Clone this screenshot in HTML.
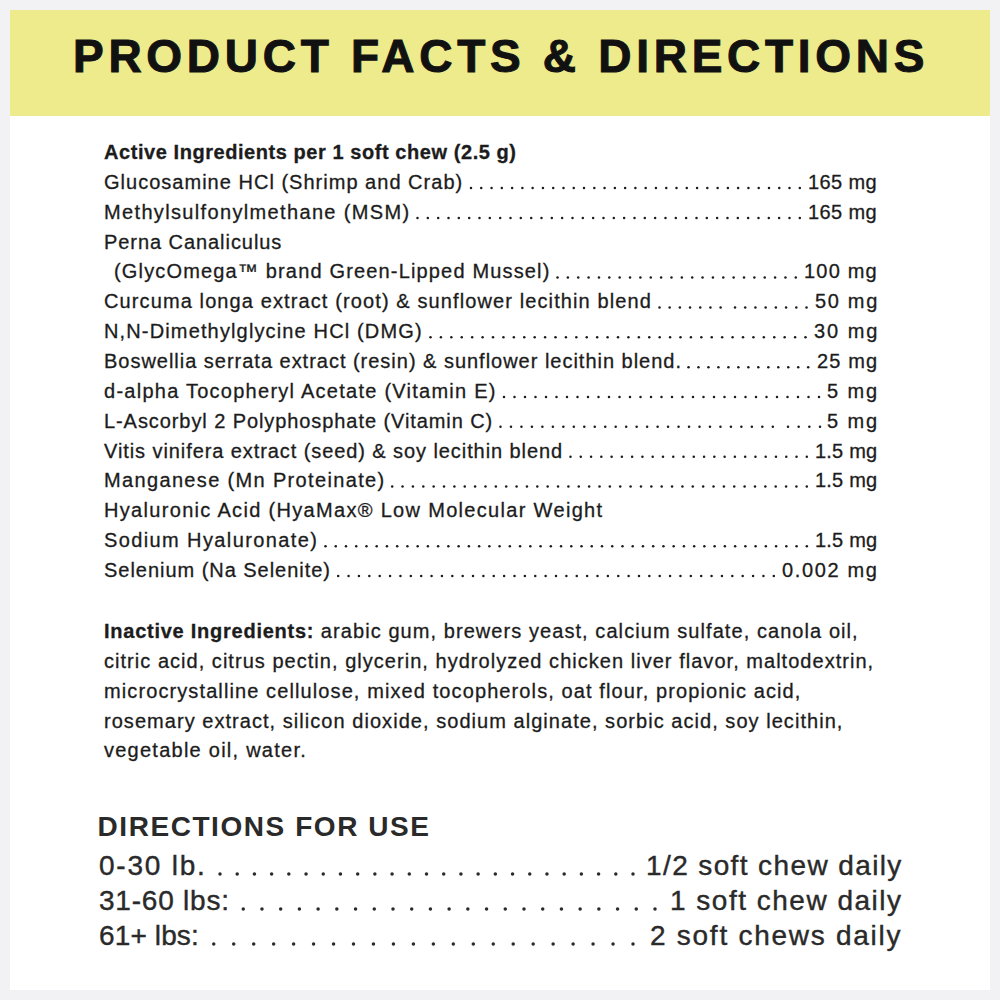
<!DOCTYPE html>
<html><head><meta charset="utf-8">
<style>
*{margin:0;padding:0;box-sizing:border-box}
html,body{width:1000px;height:1000px;overflow:hidden;background:#f2f2f4}
body{position:relative;font-family:"Liberation Sans",sans-serif;color:#1c1c1c}
#card{position:absolute;left:10px;top:10px;width:980px;height:980px;background:#fff}
#hdr{position:absolute;left:10px;top:10px;width:980px;height:106px;background:#edeb8c}
#title{position:absolute;left:73px;top:27.5px;font-weight:bold;font-size:46px;line-height:56px;letter-spacing:4.72px;color:#111;white-space:nowrap;-webkit-text-stroke:1px #111}
.ln{position:absolute;left:104px;height:30px;font-size:20px;line-height:30px;white-space:nowrap;-webkit-text-stroke:0.3px #1c1c1c}
.v{position:absolute;height:30px;font-size:20px;line-height:30px;white-space:nowrap;-webkit-text-stroke:0.3px #1c1c1c}
.dt{position:absolute;height:6px;background-image:radial-gradient(circle at 50% 50%,#1c1c1c 1.15px,rgba(28,28,28,0) 1.55px);background-size:10.4px 6px;background-repeat:repeat-x;background-position:left 0 top 0}
b,.b{font-weight:bold}
#pb{letter-spacing:0.75px}
.p{position:absolute;left:104px;font-size:20px;line-height:30px;white-space:nowrap;-webkit-text-stroke:0.3px #1c1c1c}
#dh{position:absolute;left:97.5px;font-size:28px;line-height:34px;font-weight:bold;letter-spacing:1.5647058823529285px;color:#2a2a2a;white-space:nowrap}
.dl{position:absolute;font-size:28px;line-height:36px;white-space:nowrap;color:#2a2a2a;-webkit-text-stroke:0.4px #2a2a2a}
.dd{position:absolute;height:8px;background-image:radial-gradient(circle at 50% 50%,#2a2a2a 1.55px,rgba(42,42,42,0) 2.0px);background-size:17px 8px;background-repeat:repeat-x;background-position:left 0 top 0}
</style></head><body>
<div id="card"></div>
<div id="hdr"></div>
<div id="title">PRODUCT FACTS &amp; DIRECTIONS</div>
<div class="ln b" id="r0" style="top:137.00px;left:104.0px;letter-spacing:0.561px">Active Ingredients per 1 soft chew (2.5 g)</div>
<div class="ln" id="r1" style="top:166.85px;left:104.0px;letter-spacing:1.016px">Glucosamine HCl (Shrimp and Crab)</div>
<div class="v" id="v1" style="top:166.85px;left:808.00px;letter-spacing:0.400px">165 mg</div>
<div class="ln" id="r2" style="top:196.70px;left:104.0px;letter-spacing:1.346px">Methylsulfonylmethane (MSM)</div>
<div class="v" id="v2" style="top:196.70px;left:808.00px;letter-spacing:0.400px">165 mg</div>
<div class="ln" id="r3" style="top:226.55px;left:104.0px;letter-spacing:0.938px">Perna Canaliculus</div>
<div class="ln" id="r4" style="top:256.40px;left:114.0px;letter-spacing:1.162px">(GlycOmega™ brand Green-Lipped Mussel)</div>
<div class="v" id="v4" style="top:256.40px;left:804.00px;letter-spacing:1.200px">100 mg</div>
<div class="ln" id="r5" style="top:286.25px;left:104.0px;letter-spacing:1.111px">Curcuma longa extract (root) &amp; sunflower lecithin blend</div>
<div class="v" id="v5" style="top:286.25px;left:815.00px;letter-spacing:1.675px">50 mg</div>
<div class="ln" id="r6" style="top:316.10px;left:104.0px;letter-spacing:1.143px">N,N-Dimethylglycine HCl (DMG)</div>
<div class="v" id="v6" style="top:316.10px;left:814.00px;letter-spacing:1.975px">30 mg</div>
<div class="ln" id="r7" style="top:345.95px;left:104.0px;letter-spacing:0.983px">Boswellia serrata extract (resin) &amp; sunflower lecithin blend.</div>
<div class="v" id="v7" style="top:345.95px;left:817.00px;letter-spacing:1.150px">25 mg</div>
<div class="ln" id="r8" style="top:375.80px;left:104.0px;letter-spacing:1.257px">d-alpha Tocopheryl Acetate (Vitamin E)</div>
<div class="v" id="v8" style="top:375.80px;left:827.00px;letter-spacing:1.867px">5 mg</div>
<div class="ln" id="r9" style="top:405.65px;left:104.0px;letter-spacing:0.919px">L-Ascorbyl 2 Polyphosphate (Vitamin C)</div>
<div class="v" id="v9" style="top:405.65px;left:827.00px;letter-spacing:1.867px">5 mg</div>
<div class="ln" id="r10" style="top:435.50px;left:104.0px;letter-spacing:0.918px">Vitis vinifera extract (seed) &amp; soy lecithin blend</div>
<div class="v" id="v10" style="top:435.50px;left:815.00px;letter-spacing:0.200px">1.5 mg</div>
<div class="ln" id="r11" style="top:465.35px;left:104.0px;letter-spacing:1.346px">Manganese (Mn Proteinate)</div>
<div class="v" id="v11" style="top:465.35px;left:815.00px;letter-spacing:0.200px">1.5 mg</div>
<div class="ln" id="r12" style="top:495.20px;left:104.0px;letter-spacing:1.318px">Hyaluronic Acid (HyaMax® Low Molecular Weight</div>
<div class="ln" id="r13" style="top:525.05px;left:104.0px;letter-spacing:1.389px">Sodium Hyaluronate)</div>
<div class="v" id="v13" style="top:525.05px;left:815.00px;letter-spacing:0.200px">1.5 mg</div>
<div class="ln" id="r14" style="top:554.90px;left:104.0px;letter-spacing:0.967px">Selenium (Na Selenite)</div>
<div class="v" id="v14" style="top:554.90px;left:782.00px;letter-spacing:1.657px">0.002 mg</div>
<div class="p" id="p0" style="top:616.00px;letter-spacing:1.068px"><b id="pb">Inactive Ingredients:</b> arabic gum, brewers yeast, calcium sulfate, canola oil,</div>
<div class="p" id="p1" style="top:645.85px;letter-spacing:1.031px">citric acid, citrus pectin, glycerin, hydrolyzed chicken liver flavor, maltodextrin,</div>
<div class="p" id="p2" style="top:675.70px;letter-spacing:1.103px">microcrystalline cellulose, mixed tocopherols, oat flour, propionic acid,</div>
<div class="p" id="p3" style="top:705.55px;letter-spacing:1.043px">rosemary extract, silicon dioxide, sodium alginate, sorbic acid, soy lecithin,</div>
<div class="p" id="p4" style="top:735.40px;letter-spacing:1.250px">vegetable oil, water.</div>
<div id="dh" style="top:810px">DIRECTIONS FOR USE</div>
<div class="dl" id="dl0" style="top:848.00px;left:99px;letter-spacing:1.786px">0-30 lb.</div>
<div class="dl" id="dr0" style="top:848.00px;left:646.00px;letter-spacing:1.389px;word-spacing:0.00px">1/2 soft chew daily</div>
<div class="dl" id="dl1" style="top:883.00px;left:99px;letter-spacing:0.778px">31-60 lbs:</div>
<div class="dl" id="dr1" style="top:883.00px;left:670.00px;letter-spacing:1.500px;word-spacing:0.00px">1 soft chew daily</div>
<div class="dl" id="dl2" style="top:918.00px;left:99px;letter-spacing:0.129px">61+ lbs:</div>
<div class="dl" id="dr2" style="top:918.00px;left:650.00px;letter-spacing:1.735px;word-spacing:0.00px">2 soft chews daily</div>
<svg class="dots" width="1000" height="1000" viewBox="0 0 1000 1000" style="position:absolute;left:0;top:0"><circle cx="471.00" cy="188.05" r="1.25" fill="#1c1c1c"/><circle cx="481.27" cy="188.05" r="1.25" fill="#1c1c1c"/><circle cx="491.55" cy="188.05" r="1.25" fill="#1c1c1c"/><circle cx="501.82" cy="188.05" r="1.25" fill="#1c1c1c"/><circle cx="512.10" cy="188.05" r="1.25" fill="#1c1c1c"/><circle cx="522.38" cy="188.05" r="1.25" fill="#1c1c1c"/><circle cx="532.65" cy="188.05" r="1.25" fill="#1c1c1c"/><circle cx="542.92" cy="188.05" r="1.25" fill="#1c1c1c"/><circle cx="553.20" cy="188.05" r="1.25" fill="#1c1c1c"/><circle cx="563.48" cy="188.05" r="1.25" fill="#1c1c1c"/><circle cx="573.75" cy="188.05" r="1.25" fill="#1c1c1c"/><circle cx="584.02" cy="188.05" r="1.25" fill="#1c1c1c"/><circle cx="594.30" cy="188.05" r="1.25" fill="#1c1c1c"/><circle cx="604.58" cy="188.05" r="1.25" fill="#1c1c1c"/><circle cx="614.85" cy="188.05" r="1.25" fill="#1c1c1c"/><circle cx="625.12" cy="188.05" r="1.25" fill="#1c1c1c"/><circle cx="635.40" cy="188.05" r="1.25" fill="#1c1c1c"/><circle cx="645.67" cy="188.05" r="1.25" fill="#1c1c1c"/><circle cx="655.95" cy="188.05" r="1.25" fill="#1c1c1c"/><circle cx="666.22" cy="188.05" r="1.25" fill="#1c1c1c"/><circle cx="676.50" cy="188.05" r="1.25" fill="#1c1c1c"/><circle cx="686.77" cy="188.05" r="1.25" fill="#1c1c1c"/><circle cx="697.05" cy="188.05" r="1.25" fill="#1c1c1c"/><circle cx="707.32" cy="188.05" r="1.25" fill="#1c1c1c"/><circle cx="717.60" cy="188.05" r="1.25" fill="#1c1c1c"/><circle cx="727.88" cy="188.05" r="1.25" fill="#1c1c1c"/><circle cx="738.15" cy="188.05" r="1.25" fill="#1c1c1c"/><circle cx="748.42" cy="188.05" r="1.25" fill="#1c1c1c"/><circle cx="758.70" cy="188.05" r="1.25" fill="#1c1c1c"/><circle cx="768.97" cy="188.05" r="1.25" fill="#1c1c1c"/><circle cx="779.25" cy="188.05" r="1.25" fill="#1c1c1c"/><circle cx="789.52" cy="188.05" r="1.25" fill="#1c1c1c"/><circle cx="799.80" cy="188.05" r="1.25" fill="#1c1c1c"/><circle cx="417.50" cy="217.90" r="1.25" fill="#1c1c1c"/><circle cx="427.83" cy="217.90" r="1.25" fill="#1c1c1c"/><circle cx="438.16" cy="217.90" r="1.25" fill="#1c1c1c"/><circle cx="448.50" cy="217.90" r="1.25" fill="#1c1c1c"/><circle cx="458.83" cy="217.90" r="1.25" fill="#1c1c1c"/><circle cx="469.16" cy="217.90" r="1.25" fill="#1c1c1c"/><circle cx="479.49" cy="217.90" r="1.25" fill="#1c1c1c"/><circle cx="489.83" cy="217.90" r="1.25" fill="#1c1c1c"/><circle cx="500.16" cy="217.90" r="1.25" fill="#1c1c1c"/><circle cx="510.49" cy="217.90" r="1.25" fill="#1c1c1c"/><circle cx="520.82" cy="217.90" r="1.25" fill="#1c1c1c"/><circle cx="531.16" cy="217.90" r="1.25" fill="#1c1c1c"/><circle cx="541.49" cy="217.90" r="1.25" fill="#1c1c1c"/><circle cx="551.82" cy="217.90" r="1.25" fill="#1c1c1c"/><circle cx="562.15" cy="217.90" r="1.25" fill="#1c1c1c"/><circle cx="572.49" cy="217.90" r="1.25" fill="#1c1c1c"/><circle cx="582.82" cy="217.90" r="1.25" fill="#1c1c1c"/><circle cx="593.15" cy="217.90" r="1.25" fill="#1c1c1c"/><circle cx="603.48" cy="217.90" r="1.25" fill="#1c1c1c"/><circle cx="613.82" cy="217.90" r="1.25" fill="#1c1c1c"/><circle cx="624.15" cy="217.90" r="1.25" fill="#1c1c1c"/><circle cx="634.48" cy="217.90" r="1.25" fill="#1c1c1c"/><circle cx="644.81" cy="217.90" r="1.25" fill="#1c1c1c"/><circle cx="655.15" cy="217.90" r="1.25" fill="#1c1c1c"/><circle cx="665.48" cy="217.90" r="1.25" fill="#1c1c1c"/><circle cx="675.81" cy="217.90" r="1.25" fill="#1c1c1c"/><circle cx="686.14" cy="217.90" r="1.25" fill="#1c1c1c"/><circle cx="696.48" cy="217.90" r="1.25" fill="#1c1c1c"/><circle cx="706.81" cy="217.90" r="1.25" fill="#1c1c1c"/><circle cx="717.14" cy="217.90" r="1.25" fill="#1c1c1c"/><circle cx="727.47" cy="217.90" r="1.25" fill="#1c1c1c"/><circle cx="737.81" cy="217.90" r="1.25" fill="#1c1c1c"/><circle cx="748.14" cy="217.90" r="1.25" fill="#1c1c1c"/><circle cx="758.47" cy="217.90" r="1.25" fill="#1c1c1c"/><circle cx="768.80" cy="217.90" r="1.25" fill="#1c1c1c"/><circle cx="779.14" cy="217.90" r="1.25" fill="#1c1c1c"/><circle cx="789.47" cy="217.90" r="1.25" fill="#1c1c1c"/><circle cx="799.80" cy="217.90" r="1.25" fill="#1c1c1c"/><circle cx="557.50" cy="277.60" r="1.25" fill="#1c1c1c"/><circle cx="567.86" cy="277.60" r="1.25" fill="#1c1c1c"/><circle cx="578.22" cy="277.60" r="1.25" fill="#1c1c1c"/><circle cx="588.58" cy="277.60" r="1.25" fill="#1c1c1c"/><circle cx="598.94" cy="277.60" r="1.25" fill="#1c1c1c"/><circle cx="609.30" cy="277.60" r="1.25" fill="#1c1c1c"/><circle cx="619.67" cy="277.60" r="1.25" fill="#1c1c1c"/><circle cx="630.03" cy="277.60" r="1.25" fill="#1c1c1c"/><circle cx="640.39" cy="277.60" r="1.25" fill="#1c1c1c"/><circle cx="650.75" cy="277.60" r="1.25" fill="#1c1c1c"/><circle cx="661.11" cy="277.60" r="1.25" fill="#1c1c1c"/><circle cx="671.47" cy="277.60" r="1.25" fill="#1c1c1c"/><circle cx="681.83" cy="277.60" r="1.25" fill="#1c1c1c"/><circle cx="692.19" cy="277.60" r="1.25" fill="#1c1c1c"/><circle cx="702.55" cy="277.60" r="1.25" fill="#1c1c1c"/><circle cx="712.91" cy="277.60" r="1.25" fill="#1c1c1c"/><circle cx="723.27" cy="277.60" r="1.25" fill="#1c1c1c"/><circle cx="733.63" cy="277.60" r="1.25" fill="#1c1c1c"/><circle cx="744.00" cy="277.60" r="1.25" fill="#1c1c1c"/><circle cx="754.36" cy="277.60" r="1.25" fill="#1c1c1c"/><circle cx="764.72" cy="277.60" r="1.25" fill="#1c1c1c"/><circle cx="775.08" cy="277.60" r="1.25" fill="#1c1c1c"/><circle cx="785.44" cy="277.60" r="1.25" fill="#1c1c1c"/><circle cx="795.80" cy="277.60" r="1.25" fill="#1c1c1c"/><circle cx="735.00" cy="307.45" r="1.25" fill="#1c1c1c"/><circle cx="745.21" cy="307.45" r="1.25" fill="#1c1c1c"/><circle cx="755.43" cy="307.45" r="1.25" fill="#1c1c1c"/><circle cx="765.64" cy="307.45" r="1.25" fill="#1c1c1c"/><circle cx="775.86" cy="307.45" r="1.25" fill="#1c1c1c"/><circle cx="786.07" cy="307.45" r="1.25" fill="#1c1c1c"/><circle cx="796.29" cy="307.45" r="1.25" fill="#1c1c1c"/><circle cx="806.50" cy="307.45" r="1.25" fill="#1c1c1c"/><circle cx="659.50" cy="307.45" r="1.25" fill="#1c1c1c"/><circle cx="669.68" cy="307.45" r="1.25" fill="#1c1c1c"/><circle cx="679.87" cy="307.45" r="1.25" fill="#1c1c1c"/><circle cx="690.05" cy="307.45" r="1.25" fill="#1c1c1c"/><circle cx="700.23" cy="307.45" r="1.25" fill="#1c1c1c"/><circle cx="710.42" cy="307.45" r="1.25" fill="#1c1c1c"/><circle cx="720.60" cy="307.45" r="1.25" fill="#1c1c1c"/><circle cx="430.50" cy="337.30" r="1.25" fill="#1c1c1c"/><circle cx="440.92" cy="337.30" r="1.25" fill="#1c1c1c"/><circle cx="451.33" cy="337.30" r="1.25" fill="#1c1c1c"/><circle cx="461.75" cy="337.30" r="1.25" fill="#1c1c1c"/><circle cx="472.17" cy="337.30" r="1.25" fill="#1c1c1c"/><circle cx="482.58" cy="337.30" r="1.25" fill="#1c1c1c"/><circle cx="493.00" cy="337.30" r="1.25" fill="#1c1c1c"/><circle cx="503.42" cy="337.30" r="1.25" fill="#1c1c1c"/><circle cx="513.83" cy="337.30" r="1.25" fill="#1c1c1c"/><circle cx="524.25" cy="337.30" r="1.25" fill="#1c1c1c"/><circle cx="534.67" cy="337.30" r="1.25" fill="#1c1c1c"/><circle cx="545.08" cy="337.30" r="1.25" fill="#1c1c1c"/><circle cx="555.50" cy="337.30" r="1.25" fill="#1c1c1c"/><circle cx="565.92" cy="337.30" r="1.25" fill="#1c1c1c"/><circle cx="576.33" cy="337.30" r="1.25" fill="#1c1c1c"/><circle cx="586.75" cy="337.30" r="1.25" fill="#1c1c1c"/><circle cx="597.17" cy="337.30" r="1.25" fill="#1c1c1c"/><circle cx="607.58" cy="337.30" r="1.25" fill="#1c1c1c"/><circle cx="618.00" cy="337.30" r="1.25" fill="#1c1c1c"/><circle cx="628.42" cy="337.30" r="1.25" fill="#1c1c1c"/><circle cx="638.83" cy="337.30" r="1.25" fill="#1c1c1c"/><circle cx="649.25" cy="337.30" r="1.25" fill="#1c1c1c"/><circle cx="659.67" cy="337.30" r="1.25" fill="#1c1c1c"/><circle cx="670.08" cy="337.30" r="1.25" fill="#1c1c1c"/><circle cx="680.50" cy="337.30" r="1.25" fill="#1c1c1c"/><circle cx="690.92" cy="337.30" r="1.25" fill="#1c1c1c"/><circle cx="701.33" cy="337.30" r="1.25" fill="#1c1c1c"/><circle cx="711.75" cy="337.30" r="1.25" fill="#1c1c1c"/><circle cx="722.17" cy="337.30" r="1.25" fill="#1c1c1c"/><circle cx="732.58" cy="337.30" r="1.25" fill="#1c1c1c"/><circle cx="743.00" cy="337.30" r="1.25" fill="#1c1c1c"/><circle cx="753.42" cy="337.30" r="1.25" fill="#1c1c1c"/><circle cx="763.83" cy="337.30" r="1.25" fill="#1c1c1c"/><circle cx="774.25" cy="337.30" r="1.25" fill="#1c1c1c"/><circle cx="784.67" cy="337.30" r="1.25" fill="#1c1c1c"/><circle cx="795.08" cy="337.30" r="1.25" fill="#1c1c1c"/><circle cx="805.50" cy="337.30" r="1.25" fill="#1c1c1c"/><circle cx="688.50" cy="367.15" r="1.25" fill="#1c1c1c"/><circle cx="698.48" cy="367.15" r="1.25" fill="#1c1c1c"/><circle cx="708.45" cy="367.15" r="1.25" fill="#1c1c1c"/><circle cx="718.42" cy="367.15" r="1.25" fill="#1c1c1c"/><circle cx="728.40" cy="367.15" r="1.25" fill="#1c1c1c"/><circle cx="738.38" cy="367.15" r="1.25" fill="#1c1c1c"/><circle cx="748.35" cy="367.15" r="1.25" fill="#1c1c1c"/><circle cx="758.32" cy="367.15" r="1.25" fill="#1c1c1c"/><circle cx="768.30" cy="367.15" r="1.25" fill="#1c1c1c"/><circle cx="778.27" cy="367.15" r="1.25" fill="#1c1c1c"/><circle cx="788.25" cy="367.15" r="1.25" fill="#1c1c1c"/><circle cx="798.22" cy="367.15" r="1.25" fill="#1c1c1c"/><circle cx="808.20" cy="367.15" r="1.25" fill="#1c1c1c"/><circle cx="504.00" cy="397.00" r="1.25" fill="#1c1c1c"/><circle cx="514.50" cy="397.00" r="1.25" fill="#1c1c1c"/><circle cx="525.00" cy="397.00" r="1.25" fill="#1c1c1c"/><circle cx="535.50" cy="397.00" r="1.25" fill="#1c1c1c"/><circle cx="546.00" cy="397.00" r="1.25" fill="#1c1c1c"/><circle cx="556.50" cy="397.00" r="1.25" fill="#1c1c1c"/><circle cx="567.00" cy="397.00" r="1.25" fill="#1c1c1c"/><circle cx="577.50" cy="397.00" r="1.25" fill="#1c1c1c"/><circle cx="588.00" cy="397.00" r="1.25" fill="#1c1c1c"/><circle cx="598.50" cy="397.00" r="1.25" fill="#1c1c1c"/><circle cx="609.00" cy="397.00" r="1.25" fill="#1c1c1c"/><circle cx="619.50" cy="397.00" r="1.25" fill="#1c1c1c"/><circle cx="630.00" cy="397.00" r="1.25" fill="#1c1c1c"/><circle cx="640.50" cy="397.00" r="1.25" fill="#1c1c1c"/><circle cx="651.00" cy="397.00" r="1.25" fill="#1c1c1c"/><circle cx="661.50" cy="397.00" r="1.25" fill="#1c1c1c"/><circle cx="672.00" cy="397.00" r="1.25" fill="#1c1c1c"/><circle cx="682.50" cy="397.00" r="1.25" fill="#1c1c1c"/><circle cx="693.00" cy="397.00" r="1.25" fill="#1c1c1c"/><circle cx="703.50" cy="397.00" r="1.25" fill="#1c1c1c"/><circle cx="714.00" cy="397.00" r="1.25" fill="#1c1c1c"/><circle cx="724.50" cy="397.00" r="1.25" fill="#1c1c1c"/><circle cx="735.00" cy="397.00" r="1.25" fill="#1c1c1c"/><circle cx="745.50" cy="397.00" r="1.25" fill="#1c1c1c"/><circle cx="756.00" cy="397.00" r="1.25" fill="#1c1c1c"/><circle cx="766.50" cy="397.00" r="1.25" fill="#1c1c1c"/><circle cx="777.00" cy="397.00" r="1.25" fill="#1c1c1c"/><circle cx="787.50" cy="397.00" r="1.25" fill="#1c1c1c"/><circle cx="798.00" cy="397.00" r="1.25" fill="#1c1c1c"/><circle cx="808.50" cy="397.00" r="1.25" fill="#1c1c1c"/><circle cx="819.00" cy="397.00" r="1.25" fill="#1c1c1c"/><circle cx="788.00" cy="426.85" r="1.25" fill="#1c1c1c"/><circle cx="798.67" cy="426.85" r="1.25" fill="#1c1c1c"/><circle cx="809.33" cy="426.85" r="1.25" fill="#1c1c1c"/><circle cx="820.00" cy="426.85" r="1.25" fill="#1c1c1c"/><circle cx="500.50" cy="426.85" r="1.25" fill="#1c1c1c"/><circle cx="510.97" cy="426.85" r="1.25" fill="#1c1c1c"/><circle cx="521.45" cy="426.85" r="1.25" fill="#1c1c1c"/><circle cx="531.92" cy="426.85" r="1.25" fill="#1c1c1c"/><circle cx="542.39" cy="426.85" r="1.25" fill="#1c1c1c"/><circle cx="552.87" cy="426.85" r="1.25" fill="#1c1c1c"/><circle cx="563.34" cy="426.85" r="1.25" fill="#1c1c1c"/><circle cx="573.81" cy="426.85" r="1.25" fill="#1c1c1c"/><circle cx="584.28" cy="426.85" r="1.25" fill="#1c1c1c"/><circle cx="594.76" cy="426.85" r="1.25" fill="#1c1c1c"/><circle cx="605.23" cy="426.85" r="1.25" fill="#1c1c1c"/><circle cx="615.70" cy="426.85" r="1.25" fill="#1c1c1c"/><circle cx="626.18" cy="426.85" r="1.25" fill="#1c1c1c"/><circle cx="636.65" cy="426.85" r="1.25" fill="#1c1c1c"/><circle cx="647.12" cy="426.85" r="1.25" fill="#1c1c1c"/><circle cx="657.60" cy="426.85" r="1.25" fill="#1c1c1c"/><circle cx="668.07" cy="426.85" r="1.25" fill="#1c1c1c"/><circle cx="678.54" cy="426.85" r="1.25" fill="#1c1c1c"/><circle cx="689.02" cy="426.85" r="1.25" fill="#1c1c1c"/><circle cx="699.49" cy="426.85" r="1.25" fill="#1c1c1c"/><circle cx="709.96" cy="426.85" r="1.25" fill="#1c1c1c"/><circle cx="720.43" cy="426.85" r="1.25" fill="#1c1c1c"/><circle cx="730.91" cy="426.85" r="1.25" fill="#1c1c1c"/><circle cx="741.38" cy="426.85" r="1.25" fill="#1c1c1c"/><circle cx="751.85" cy="426.85" r="1.25" fill="#1c1c1c"/><circle cx="762.33" cy="426.85" r="1.25" fill="#1c1c1c"/><circle cx="772.80" cy="426.85" r="1.25" fill="#1c1c1c"/><circle cx="570.50" cy="456.70" r="1.25" fill="#1c1c1c"/><circle cx="580.77" cy="456.70" r="1.25" fill="#1c1c1c"/><circle cx="591.05" cy="456.70" r="1.25" fill="#1c1c1c"/><circle cx="601.32" cy="456.70" r="1.25" fill="#1c1c1c"/><circle cx="611.60" cy="456.70" r="1.25" fill="#1c1c1c"/><circle cx="621.87" cy="456.70" r="1.25" fill="#1c1c1c"/><circle cx="632.14" cy="456.70" r="1.25" fill="#1c1c1c"/><circle cx="642.42" cy="456.70" r="1.25" fill="#1c1c1c"/><circle cx="652.69" cy="456.70" r="1.25" fill="#1c1c1c"/><circle cx="662.97" cy="456.70" r="1.25" fill="#1c1c1c"/><circle cx="673.24" cy="456.70" r="1.25" fill="#1c1c1c"/><circle cx="683.51" cy="456.70" r="1.25" fill="#1c1c1c"/><circle cx="693.79" cy="456.70" r="1.25" fill="#1c1c1c"/><circle cx="704.06" cy="456.70" r="1.25" fill="#1c1c1c"/><circle cx="714.33" cy="456.70" r="1.25" fill="#1c1c1c"/><circle cx="724.61" cy="456.70" r="1.25" fill="#1c1c1c"/><circle cx="734.88" cy="456.70" r="1.25" fill="#1c1c1c"/><circle cx="745.16" cy="456.70" r="1.25" fill="#1c1c1c"/><circle cx="755.43" cy="456.70" r="1.25" fill="#1c1c1c"/><circle cx="765.70" cy="456.70" r="1.25" fill="#1c1c1c"/><circle cx="775.98" cy="456.70" r="1.25" fill="#1c1c1c"/><circle cx="786.25" cy="456.70" r="1.25" fill="#1c1c1c"/><circle cx="796.53" cy="456.70" r="1.25" fill="#1c1c1c"/><circle cx="806.80" cy="456.70" r="1.25" fill="#1c1c1c"/><circle cx="392.20" cy="486.55" r="1.25" fill="#1c1c1c"/><circle cx="402.56" cy="486.55" r="1.25" fill="#1c1c1c"/><circle cx="412.93" cy="486.55" r="1.25" fill="#1c1c1c"/><circle cx="423.29" cy="486.55" r="1.25" fill="#1c1c1c"/><circle cx="433.66" cy="486.55" r="1.25" fill="#1c1c1c"/><circle cx="444.02" cy="486.55" r="1.25" fill="#1c1c1c"/><circle cx="454.39" cy="486.55" r="1.25" fill="#1c1c1c"/><circle cx="464.75" cy="486.55" r="1.25" fill="#1c1c1c"/><circle cx="475.12" cy="486.55" r="1.25" fill="#1c1c1c"/><circle cx="485.48" cy="486.55" r="1.25" fill="#1c1c1c"/><circle cx="495.85" cy="486.55" r="1.25" fill="#1c1c1c"/><circle cx="506.21" cy="486.55" r="1.25" fill="#1c1c1c"/><circle cx="516.58" cy="486.55" r="1.25" fill="#1c1c1c"/><circle cx="526.94" cy="486.55" r="1.25" fill="#1c1c1c"/><circle cx="537.31" cy="486.55" r="1.25" fill="#1c1c1c"/><circle cx="547.67" cy="486.55" r="1.25" fill="#1c1c1c"/><circle cx="558.04" cy="486.55" r="1.25" fill="#1c1c1c"/><circle cx="568.40" cy="486.55" r="1.25" fill="#1c1c1c"/><circle cx="578.77" cy="486.55" r="1.25" fill="#1c1c1c"/><circle cx="589.13" cy="486.55" r="1.25" fill="#1c1c1c"/><circle cx="599.50" cy="486.55" r="1.25" fill="#1c1c1c"/><circle cx="609.87" cy="486.55" r="1.25" fill="#1c1c1c"/><circle cx="620.23" cy="486.55" r="1.25" fill="#1c1c1c"/><circle cx="630.59" cy="486.55" r="1.25" fill="#1c1c1c"/><circle cx="640.96" cy="486.55" r="1.25" fill="#1c1c1c"/><circle cx="651.32" cy="486.55" r="1.25" fill="#1c1c1c"/><circle cx="661.69" cy="486.55" r="1.25" fill="#1c1c1c"/><circle cx="672.05" cy="486.55" r="1.25" fill="#1c1c1c"/><circle cx="682.42" cy="486.55" r="1.25" fill="#1c1c1c"/><circle cx="692.78" cy="486.55" r="1.25" fill="#1c1c1c"/><circle cx="703.15" cy="486.55" r="1.25" fill="#1c1c1c"/><circle cx="713.51" cy="486.55" r="1.25" fill="#1c1c1c"/><circle cx="723.88" cy="486.55" r="1.25" fill="#1c1c1c"/><circle cx="734.24" cy="486.55" r="1.25" fill="#1c1c1c"/><circle cx="744.61" cy="486.55" r="1.25" fill="#1c1c1c"/><circle cx="754.97" cy="486.55" r="1.25" fill="#1c1c1c"/><circle cx="765.34" cy="486.55" r="1.25" fill="#1c1c1c"/><circle cx="775.70" cy="486.55" r="1.25" fill="#1c1c1c"/><circle cx="786.07" cy="486.55" r="1.25" fill="#1c1c1c"/><circle cx="796.43" cy="486.55" r="1.25" fill="#1c1c1c"/><circle cx="806.80" cy="486.55" r="1.25" fill="#1c1c1c"/><circle cx="325.50" cy="546.25" r="1.25" fill="#1c1c1c"/><circle cx="335.74" cy="546.25" r="1.25" fill="#1c1c1c"/><circle cx="345.98" cy="546.25" r="1.25" fill="#1c1c1c"/><circle cx="356.22" cy="546.25" r="1.25" fill="#1c1c1c"/><circle cx="366.46" cy="546.25" r="1.25" fill="#1c1c1c"/><circle cx="376.70" cy="546.25" r="1.25" fill="#1c1c1c"/><circle cx="386.94" cy="546.25" r="1.25" fill="#1c1c1c"/><circle cx="397.18" cy="546.25" r="1.25" fill="#1c1c1c"/><circle cx="407.42" cy="546.25" r="1.25" fill="#1c1c1c"/><circle cx="417.66" cy="546.25" r="1.25" fill="#1c1c1c"/><circle cx="427.90" cy="546.25" r="1.25" fill="#1c1c1c"/><circle cx="438.14" cy="546.25" r="1.25" fill="#1c1c1c"/><circle cx="448.39" cy="546.25" r="1.25" fill="#1c1c1c"/><circle cx="458.63" cy="546.25" r="1.25" fill="#1c1c1c"/><circle cx="468.87" cy="546.25" r="1.25" fill="#1c1c1c"/><circle cx="479.11" cy="546.25" r="1.25" fill="#1c1c1c"/><circle cx="489.35" cy="546.25" r="1.25" fill="#1c1c1c"/><circle cx="499.59" cy="546.25" r="1.25" fill="#1c1c1c"/><circle cx="509.83" cy="546.25" r="1.25" fill="#1c1c1c"/><circle cx="520.07" cy="546.25" r="1.25" fill="#1c1c1c"/><circle cx="530.31" cy="546.25" r="1.25" fill="#1c1c1c"/><circle cx="540.55" cy="546.25" r="1.25" fill="#1c1c1c"/><circle cx="550.79" cy="546.25" r="1.25" fill="#1c1c1c"/><circle cx="561.03" cy="546.25" r="1.25" fill="#1c1c1c"/><circle cx="571.27" cy="546.25" r="1.25" fill="#1c1c1c"/><circle cx="581.51" cy="546.25" r="1.25" fill="#1c1c1c"/><circle cx="591.75" cy="546.25" r="1.25" fill="#1c1c1c"/><circle cx="601.99" cy="546.25" r="1.25" fill="#1c1c1c"/><circle cx="612.23" cy="546.25" r="1.25" fill="#1c1c1c"/><circle cx="622.47" cy="546.25" r="1.25" fill="#1c1c1c"/><circle cx="632.71" cy="546.25" r="1.25" fill="#1c1c1c"/><circle cx="642.95" cy="546.25" r="1.25" fill="#1c1c1c"/><circle cx="653.19" cy="546.25" r="1.25" fill="#1c1c1c"/><circle cx="663.43" cy="546.25" r="1.25" fill="#1c1c1c"/><circle cx="673.67" cy="546.25" r="1.25" fill="#1c1c1c"/><circle cx="683.91" cy="546.25" r="1.25" fill="#1c1c1c"/><circle cx="694.16" cy="546.25" r="1.25" fill="#1c1c1c"/><circle cx="704.40" cy="546.25" r="1.25" fill="#1c1c1c"/><circle cx="714.64" cy="546.25" r="1.25" fill="#1c1c1c"/><circle cx="724.88" cy="546.25" r="1.25" fill="#1c1c1c"/><circle cx="735.12" cy="546.25" r="1.25" fill="#1c1c1c"/><circle cx="745.36" cy="546.25" r="1.25" fill="#1c1c1c"/><circle cx="755.60" cy="546.25" r="1.25" fill="#1c1c1c"/><circle cx="765.84" cy="546.25" r="1.25" fill="#1c1c1c"/><circle cx="776.08" cy="546.25" r="1.25" fill="#1c1c1c"/><circle cx="786.32" cy="546.25" r="1.25" fill="#1c1c1c"/><circle cx="796.56" cy="546.25" r="1.25" fill="#1c1c1c"/><circle cx="806.80" cy="546.25" r="1.25" fill="#1c1c1c"/><circle cx="338.20" cy="576.10" r="1.25" fill="#1c1c1c"/><circle cx="348.57" cy="576.10" r="1.25" fill="#1c1c1c"/><circle cx="358.94" cy="576.10" r="1.25" fill="#1c1c1c"/><circle cx="369.31" cy="576.10" r="1.25" fill="#1c1c1c"/><circle cx="379.69" cy="576.10" r="1.25" fill="#1c1c1c"/><circle cx="390.06" cy="576.10" r="1.25" fill="#1c1c1c"/><circle cx="400.43" cy="576.10" r="1.25" fill="#1c1c1c"/><circle cx="410.80" cy="576.10" r="1.25" fill="#1c1c1c"/><circle cx="421.17" cy="576.10" r="1.25" fill="#1c1c1c"/><circle cx="431.54" cy="576.10" r="1.25" fill="#1c1c1c"/><circle cx="441.91" cy="576.10" r="1.25" fill="#1c1c1c"/><circle cx="452.29" cy="576.10" r="1.25" fill="#1c1c1c"/><circle cx="462.66" cy="576.10" r="1.25" fill="#1c1c1c"/><circle cx="473.03" cy="576.10" r="1.25" fill="#1c1c1c"/><circle cx="483.40" cy="576.10" r="1.25" fill="#1c1c1c"/><circle cx="493.77" cy="576.10" r="1.25" fill="#1c1c1c"/><circle cx="504.14" cy="576.10" r="1.25" fill="#1c1c1c"/><circle cx="514.51" cy="576.10" r="1.25" fill="#1c1c1c"/><circle cx="524.89" cy="576.10" r="1.25" fill="#1c1c1c"/><circle cx="535.26" cy="576.10" r="1.25" fill="#1c1c1c"/><circle cx="545.63" cy="576.10" r="1.25" fill="#1c1c1c"/><circle cx="556.00" cy="576.10" r="1.25" fill="#1c1c1c"/><circle cx="566.37" cy="576.10" r="1.25" fill="#1c1c1c"/><circle cx="576.74" cy="576.10" r="1.25" fill="#1c1c1c"/><circle cx="587.11" cy="576.10" r="1.25" fill="#1c1c1c"/><circle cx="597.49" cy="576.10" r="1.25" fill="#1c1c1c"/><circle cx="607.86" cy="576.10" r="1.25" fill="#1c1c1c"/><circle cx="618.23" cy="576.10" r="1.25" fill="#1c1c1c"/><circle cx="628.60" cy="576.10" r="1.25" fill="#1c1c1c"/><circle cx="638.97" cy="576.10" r="1.25" fill="#1c1c1c"/><circle cx="649.34" cy="576.10" r="1.25" fill="#1c1c1c"/><circle cx="659.71" cy="576.10" r="1.25" fill="#1c1c1c"/><circle cx="670.09" cy="576.10" r="1.25" fill="#1c1c1c"/><circle cx="680.46" cy="576.10" r="1.25" fill="#1c1c1c"/><circle cx="690.83" cy="576.10" r="1.25" fill="#1c1c1c"/><circle cx="701.20" cy="576.10" r="1.25" fill="#1c1c1c"/><circle cx="711.57" cy="576.10" r="1.25" fill="#1c1c1c"/><circle cx="721.94" cy="576.10" r="1.25" fill="#1c1c1c"/><circle cx="732.31" cy="576.10" r="1.25" fill="#1c1c1c"/><circle cx="742.69" cy="576.10" r="1.25" fill="#1c1c1c"/><circle cx="753.06" cy="576.10" r="1.25" fill="#1c1c1c"/><circle cx="763.43" cy="576.10" r="1.25" fill="#1c1c1c"/><circle cx="773.80" cy="576.10" r="1.25" fill="#1c1c1c"/><circle cx="220.00" cy="874.00" r="1.75" fill="#2a2a2a"/><circle cx="237.21" cy="874.00" r="1.75" fill="#2a2a2a"/><circle cx="254.42" cy="874.00" r="1.75" fill="#2a2a2a"/><circle cx="271.62" cy="874.00" r="1.75" fill="#2a2a2a"/><circle cx="288.83" cy="874.00" r="1.75" fill="#2a2a2a"/><circle cx="306.04" cy="874.00" r="1.75" fill="#2a2a2a"/><circle cx="323.25" cy="874.00" r="1.75" fill="#2a2a2a"/><circle cx="340.46" cy="874.00" r="1.75" fill="#2a2a2a"/><circle cx="357.67" cy="874.00" r="1.75" fill="#2a2a2a"/><circle cx="374.88" cy="874.00" r="1.75" fill="#2a2a2a"/><circle cx="392.08" cy="874.00" r="1.75" fill="#2a2a2a"/><circle cx="409.29" cy="874.00" r="1.75" fill="#2a2a2a"/><circle cx="426.50" cy="874.00" r="1.75" fill="#2a2a2a"/><circle cx="443.71" cy="874.00" r="1.75" fill="#2a2a2a"/><circle cx="460.92" cy="874.00" r="1.75" fill="#2a2a2a"/><circle cx="478.12" cy="874.00" r="1.75" fill="#2a2a2a"/><circle cx="495.33" cy="874.00" r="1.75" fill="#2a2a2a"/><circle cx="512.54" cy="874.00" r="1.75" fill="#2a2a2a"/><circle cx="529.75" cy="874.00" r="1.75" fill="#2a2a2a"/><circle cx="546.96" cy="874.00" r="1.75" fill="#2a2a2a"/><circle cx="564.17" cy="874.00" r="1.75" fill="#2a2a2a"/><circle cx="581.38" cy="874.00" r="1.75" fill="#2a2a2a"/><circle cx="598.58" cy="874.00" r="1.75" fill="#2a2a2a"/><circle cx="615.79" cy="874.00" r="1.75" fill="#2a2a2a"/><circle cx="633.00" cy="874.00" r="1.75" fill="#2a2a2a"/><circle cx="243.25" cy="909.00" r="1.75" fill="#2a2a2a"/><circle cx="261.97" cy="909.00" r="1.75" fill="#2a2a2a"/><circle cx="280.68" cy="909.00" r="1.75" fill="#2a2a2a"/><circle cx="299.40" cy="909.00" r="1.75" fill="#2a2a2a"/><circle cx="318.11" cy="909.00" r="1.75" fill="#2a2a2a"/><circle cx="336.83" cy="909.00" r="1.75" fill="#2a2a2a"/><circle cx="355.55" cy="909.00" r="1.75" fill="#2a2a2a"/><circle cx="374.26" cy="909.00" r="1.75" fill="#2a2a2a"/><circle cx="392.98" cy="909.00" r="1.75" fill="#2a2a2a"/><circle cx="411.69" cy="909.00" r="1.75" fill="#2a2a2a"/><circle cx="430.41" cy="909.00" r="1.75" fill="#2a2a2a"/><circle cx="449.12" cy="909.00" r="1.75" fill="#2a2a2a"/><circle cx="467.84" cy="909.00" r="1.75" fill="#2a2a2a"/><circle cx="486.56" cy="909.00" r="1.75" fill="#2a2a2a"/><circle cx="505.27" cy="909.00" r="1.75" fill="#2a2a2a"/><circle cx="523.99" cy="909.00" r="1.75" fill="#2a2a2a"/><circle cx="542.70" cy="909.00" r="1.75" fill="#2a2a2a"/><circle cx="561.42" cy="909.00" r="1.75" fill="#2a2a2a"/><circle cx="580.14" cy="909.00" r="1.75" fill="#2a2a2a"/><circle cx="598.85" cy="909.00" r="1.75" fill="#2a2a2a"/><circle cx="617.57" cy="909.00" r="1.75" fill="#2a2a2a"/><circle cx="636.28" cy="909.00" r="1.75" fill="#2a2a2a"/><circle cx="655.00" cy="909.00" r="1.75" fill="#2a2a2a"/><circle cx="213.75" cy="944.00" r="1.75" fill="#2a2a2a"/><circle cx="233.71" cy="944.00" r="1.75" fill="#2a2a2a"/><circle cx="253.68" cy="944.00" r="1.75" fill="#2a2a2a"/><circle cx="273.64" cy="944.00" r="1.75" fill="#2a2a2a"/><circle cx="293.61" cy="944.00" r="1.75" fill="#2a2a2a"/><circle cx="313.57" cy="944.00" r="1.75" fill="#2a2a2a"/><circle cx="333.54" cy="944.00" r="1.75" fill="#2a2a2a"/><circle cx="353.50" cy="944.00" r="1.75" fill="#2a2a2a"/><circle cx="373.46" cy="944.00" r="1.75" fill="#2a2a2a"/><circle cx="393.43" cy="944.00" r="1.75" fill="#2a2a2a"/><circle cx="413.39" cy="944.00" r="1.75" fill="#2a2a2a"/><circle cx="433.36" cy="944.00" r="1.75" fill="#2a2a2a"/><circle cx="453.32" cy="944.00" r="1.75" fill="#2a2a2a"/><circle cx="473.29" cy="944.00" r="1.75" fill="#2a2a2a"/><circle cx="493.25" cy="944.00" r="1.75" fill="#2a2a2a"/><circle cx="513.21" cy="944.00" r="1.75" fill="#2a2a2a"/><circle cx="533.18" cy="944.00" r="1.75" fill="#2a2a2a"/><circle cx="553.14" cy="944.00" r="1.75" fill="#2a2a2a"/><circle cx="573.11" cy="944.00" r="1.75" fill="#2a2a2a"/><circle cx="593.07" cy="944.00" r="1.75" fill="#2a2a2a"/><circle cx="613.04" cy="944.00" r="1.75" fill="#2a2a2a"/><circle cx="633.00" cy="944.00" r="1.75" fill="#2a2a2a"/></svg>
</body></html>
